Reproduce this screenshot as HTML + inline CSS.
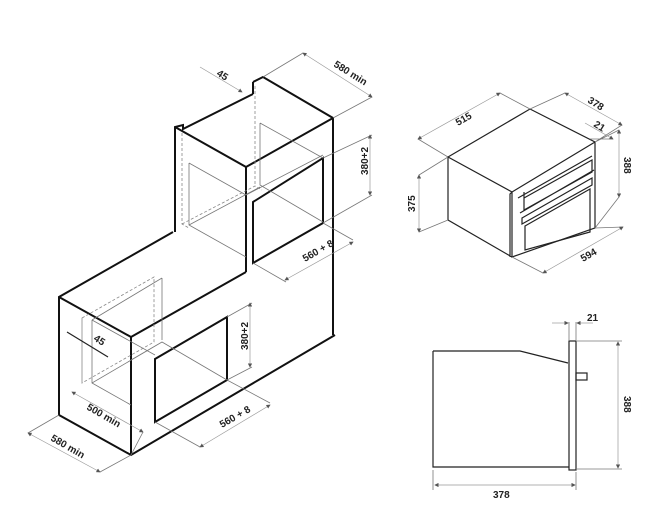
<!DOCTYPE html>
<html><head><meta charset="utf-8"><style>
html,body{margin:0;padding:0;background:#fff}
svg{display:block}
text{font-family:"Liberation Sans Narrow","Liberation Sans",sans-serif;font-weight:bold;font-size:10px;fill:#222}
.k{stroke:#111;stroke-width:2;fill:none;stroke-linejoin:miter}
.m{stroke:#222;stroke-width:1.2;fill:none}
.t{stroke:#777;stroke-width:0.8;fill:none}
.d{stroke:#888;stroke-width:0.8;fill:none;stroke-dasharray:3,2}
.g{stroke:#999;stroke-width:0.7;fill:none}
</style></head><body>
<svg width="663" height="531" viewBox="0 0 663 531" xmlns="http://www.w3.org/2000/svg">
<defs><marker id="a" markerWidth="6" markerHeight="6" refX="5" refY="3" orient="auto-start-reverse"><path d="M0,0 L6,3 L0,6z" fill="#555"/></marker></defs>

<!-- upper cabinet -->
<path class="k" d="M175,232 V127 L183,125 V129 L253,94 M253,82 L263,77 L333,118 V335 M175,127 L246,167 V272 M246,167 L333,118 M253,82 V94"/>
<path class="k" d="M253,202 L323,158 V223 L253,263 Z"/>
<path class="t" d="M189,163 L246,195 M189,163 V225 L246,257 M189,225 L260,187 M260,123 V185 L323,222 M260,123 L323,158 M246,195 L323,155"/>
<path class="d" d="M182,133 V224 L189,228 M182,224 L255,186 L262,190 M255,86 V186"/>

<!-- lower cabinet -->
<path class="k" d="M173,232 L59,297 V415 L131,455 L335,335 M59,297 L131,337 V455 M131,337 L246,272"/>
<path class="k" d="M155,359 L227,317 V380 L155,422 Z"/>
<path class="t" d="M92,320 L155,355 M92,320 V383 L131,405 M162,278 V340 M92,320 L162,278 M92,383 L162,342 L227,380 M162,342 L131,360"/>
<path class="d" d="M82,318 L154,277 V342 L82,383 Z M82,318 V383"/>

<!-- left dimensions -->
<path class="t" d="M263,77 L303,53 M333,118 L372,97 M323,158 L372,135 M323,223 L372,195 M253,263 L286,282 M323,223 L353,240 M227,317 L252,303 M227,380 L252,367 M155,422 L200,447 M227,380 L270,403 M59,415 L28,433 M131,455 L100,472 M131,455 L143,432"/>
<line class="g" x1="303" y1="53" x2="372" y2="97" marker-start="url(#a)" marker-end="url(#a)"/>
<line class="g" x1="200" y1="67" x2="242" y2="92" marker-end="url(#a)"/>
<line class="g" x1="370" y1="135" x2="370" y2="195" marker-start="url(#a)" marker-end="url(#a)"/>
<line class="g" x1="285" y1="280" x2="353" y2="242" marker-start="url(#a)" marker-end="url(#a)"/>
<line class="g" x1="250" y1="303" x2="250" y2="367" marker-start="url(#a)" marker-end="url(#a)"/>
<line class="m" x1="67" y1="332" x2="108" y2="357"/>
<line class="g" x1="72" y1="392" x2="143" y2="432" marker-start="url(#a)" marker-end="url(#a)"/>
<line class="g" x1="200" y1="447" x2="270" y2="405" marker-start="url(#a)" marker-end="url(#a)"/>
<line class="g" x1="28" y1="433" x2="100" y2="472" marker-start="url(#a)" marker-end="url(#a)"/>

<text transform="translate(333,66) rotate(32)">580 min</text>
<text transform="translate(216,75) rotate(32)">45</text>
<text transform="translate(368,175) rotate(-90)">380+2</text>
<text transform="translate(305,262) rotate(-30)">560 + 8</text>
<text transform="translate(248,350) rotate(-90)">380+2</text>
<text transform="translate(93,340) rotate(32)">45</text>
<text transform="translate(86,409) rotate(30)">500 min</text>
<text transform="translate(222,428) rotate(-30)">560 + 8</text>
<text transform="translate(50,440) rotate(30)">580 min</text>

<!-- iso oven -->
<path class="m" d="M448,157 L530,109 L595,142 V228 L512,257 V192 L448,157 V220 L512,257 M512,192 L595,142 M512,192 L510,194 V257"/>
<path class="m" d="M518,198 L592,156 M524,192 V210 L592,172 V160 L524,198 M520,213 L594,170 M522,218 L592,178 V185 L522,224 Z M525,226 L590,189 V232 L525,250 Z"/>
<path class="t" d="M448,157 L418,139 M530,109 L500,93 M530,109 L565,93 M595,142 L622,125 M590,139 L613,139 M595,142 L619,130 M595,228 L619,197 M448,157 L419,175 M448,220 L419,232 M512,257 L543,273 M595,228 L623,227"/>
<line class="g" x1="418" y1="139" x2="500" y2="93" marker-start="url(#a)" marker-end="url(#a)"/>
<line class="g" x1="565" y1="93" x2="622" y2="125" marker-start="url(#a)" marker-end="url(#a)"/>
<line class="g" x1="585" y1="123" x2="613" y2="139" marker-end="url(#a)"/>
<line class="g" x1="619" y1="130" x2="619" y2="197" marker-start="url(#a)" marker-end="url(#a)"/>
<line class="g" x1="419" y1="175" x2="419" y2="232" marker-start="url(#a)" marker-end="url(#a)"/>
<line class="g" x1="543" y1="273" x2="623" y2="227" marker-start="url(#a)" marker-end="url(#a)"/>
<text transform="translate(458,126) rotate(-30)">515</text>
<text transform="translate(587,102) rotate(32)">378</text>
<text transform="translate(593,126) rotate(32)">21</text>
<text transform="translate(624,157) rotate(90)">388</text>
<text transform="translate(415,212) rotate(-90)">375</text>
<text transform="translate(583,262) rotate(-30)">594</text>

<!-- side view -->
<path class="m" d="M433,351 H520 L568,363 M433,351 V467 H569"/>
<rect class="m" x="569" y="341" width="7" height="129"/>
<rect class="m" x="576" y="373" width="11" height="7"/>
<line class="t" x1="569" y1="322" x2="569" y2="340"/>
<line class="t" x1="576" y1="322" x2="576" y2="340"/>
<line class="g" x1="552" y1="323" x2="568" y2="323" marker-end="url(#a)"/>
<line class="g" x1="593" y1="323" x2="577" y2="323" marker-end="url(#a)"/>
<text x="587" y="321">21</text>
<path class="t" d="M577,341 H622 M577,469 H622 M433,470 V490 M576,472 V490"/>
<line class="g" x1="618" y1="342" x2="618" y2="468" marker-start="url(#a)" marker-end="url(#a)"/>
<text transform="translate(624,396) rotate(90)">388</text>
<line class="g" x1="435" y1="485" x2="575" y2="485" marker-start="url(#a)" marker-end="url(#a)"/>
<text x="493" y="498">378</text>
</svg>
</body></html>
